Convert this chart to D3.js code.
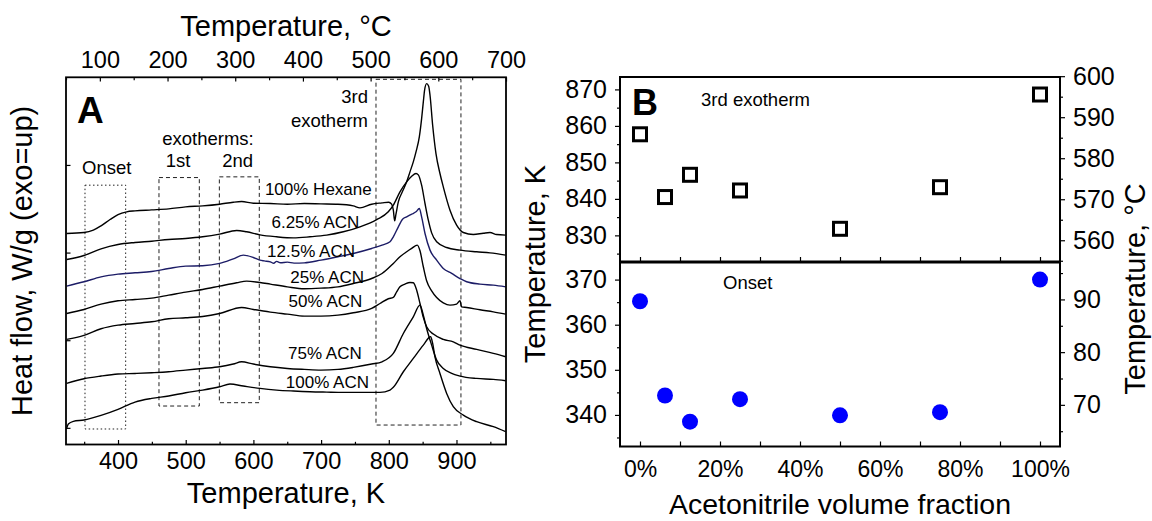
<!DOCTYPE html>
<html>
<head>
<meta charset="utf-8">
<script src="https://cdn.jsdelivr.net/npm/d3@7"></script>
<style>
  body { margin: 0; background: #fff; }
  svg { display: block; }
  text { font-family: "Liberation Sans", Arial, Helvetica, sans-serif; fill: #000; }
</style>
</head>
<body>
<svg id="chart" width="1152" height="521"></svg>
<script>
// ---------------- Panel A: DSC traces (temperature in K, heat flow in W/g, offset) ----------------
const hexane = [[324.1,2.218],[349.7,2.229],[363.5,2.256],[374.9,2.305],[388.2,2.377],[400.0,2.434],[412.8,2.465],[425.1,2.476],[449.7,2.487],[474.8,2.499],[499.9,2.522],[525.0,2.533],[550.1,2.552],[570.3,2.575],[582.6,2.582],[599.9,2.563],[625.0,2.560],[650.1,2.552],[675.2,2.560],[699.8,2.556],[724.9,2.552],[747.6,2.533],[757.4,2.510],[774.7,2.552],[790.0,2.567],[799.8,2.575],[804.2,2.552],[806.7,2.484],[808.7,2.362],[810.6,2.438],[814.1,2.579],[820.0,2.693],[826.4,2.807],[831.3,2.921],[836.2,3.035],[840.2,3.149],[845.1,3.320],[848.5,3.529],[851.0,3.719],[853.0,3.860],[855.9,3.928],[858.9,3.898],[860.9,3.795],[864.8,3.453],[869.7,3.130],[875.6,2.902],[880.5,2.750],[890.4,2.484],[900.2,2.313],[910.1,2.229],[924.9,2.206],[939.6,2.221],[949.5,2.229],[959.3,2.206],[972.6,2.199]];
const acn6 = [[324.1,1.921],[349.7,1.967],[374.9,2.043],[400.0,2.092],[425.1,2.115],[449.7,2.130],[474.8,2.149],[499.9,2.161],[525.0,2.180],[550.1,2.210],[575.3,2.252],[590.0,2.237],[609.7,2.202],[634.3,2.180],[659.0,2.168],[683.6,2.180],[708.2,2.199],[732.8,2.237],[757.4,2.294],[782.1,2.377],[799.3,2.465],[806.7,2.541],[816.5,2.693],[826.4,2.807],[833.8,2.871],[840.2,2.902],[843.6,2.887],[848.5,2.769],[853.5,2.560],[858.4,2.370],[863.3,2.225],[870.7,2.123],[885.5,2.058],[905.2,2.028],[929.8,2.009],[949.5,1.997],[972.6,1.971]];
const acn12 = [[324.1,1.617],[349.7,1.667],[374.9,1.723],[400.0,1.754],[425.1,1.769],[449.7,1.784],[474.8,1.818],[499.9,1.845],[525.0,1.849],[550.1,1.876],[570.3,1.929],[585.1,1.971],[599.9,1.944],[609.7,1.914],[616.0,1.905],[625.0,1.894],[630.0,1.878],[634.3,1.900],[640.0,1.884],[650.1,1.891],[660.0,1.880],[675.2,1.883],[699.8,1.914],[724.9,1.952],[747.6,1.990],[774.7,2.047],[790.0,2.085],[801.8,2.123],[806.7,2.180],[814.1,2.294],[820.0,2.377],[826.4,2.408],[833.8,2.438],[840.2,2.465],[845.1,2.503],[848.5,2.408],[853.5,2.218],[860.9,2.028],[870.7,1.914],[880.5,1.819],[892.9,1.762],[905.2,1.704],[915.0,1.667],[934.7,1.640],[954.4,1.628],[972.6,1.609]];
const acn25 = [[324.1,1.305],[349.7,1.351],[374.9,1.412],[400.0,1.450],[425.1,1.465],[449.7,1.480],[474.8,1.514],[499.9,1.549],[525.0,1.579],[550.1,1.617],[575.3,1.655],[590.0,1.674],[609.7,1.659],[625.0,1.640],[650.1,1.609],[675.2,1.587],[699.8,1.594],[724.9,1.609],[747.6,1.647],[774.7,1.704],[790.0,1.761],[806.7,1.876],[816.5,1.952],[826.4,2.009],[833.8,2.047],[842.1,2.085],[846.1,2.020],[851.0,1.838],[855.9,1.678],[863.3,1.564],[870.7,1.488],[880.5,1.427],[890.4,1.400],[900.2,1.412],[905.2,1.450],[907.6,1.380],[915.0,1.374],[934.7,1.347],[954.4,1.324],[972.6,1.298]];
const acn50 = [[324.1,1.009],[349.7,1.055],[374.9,1.131],[400.0,1.172],[425.1,1.191],[449.7,1.210],[474.8,1.245],[499.9,1.256],[525.0,1.271],[550.1,1.305],[582.6,1.374],[599.9,1.351],[625.0,1.321],[650.1,1.298],[675.2,1.275],[699.8,1.275],[724.9,1.286],[747.6,1.313],[774.7,1.362],[787.0,1.419],[799.3,1.473],[806.7,1.488],[811.6,1.552],[816.5,1.609],[823.9,1.640],[831.3,1.659],[836.2,1.655],[841.2,1.571],[846.1,1.419],[851.0,1.260],[855.9,1.153],[865.8,1.070],[880.5,1.009],[895.3,0.982],[905.2,0.944],[929.8,0.895],[954.4,0.849],[972.6,0.811]];
const acn75 = [[324.1,0.507],[349.7,0.560],[374.9,0.591],[400.0,0.614],[425.1,0.621],[449.7,0.629],[474.8,0.640],[499.9,0.659],[525.0,0.678],[550.1,0.697],[570.3,0.728],[582.6,0.754],[599.9,0.728],[625.0,0.697],[650.1,0.678],[675.2,0.667],[699.8,0.659],[724.9,0.667],[747.6,0.690],[774.7,0.728],[790.0,0.754],[806.7,0.849],[821.5,1.077],[836.2,1.267],[846.1,1.400],[851.0,1.286],[855.9,1.134],[863.3,0.944],[870.7,0.773],[880.5,0.678],[892.9,0.621],[905.2,0.591],[929.8,0.564],[954.4,0.553],[972.6,0.538]];
const acn100 = [[324.1,-0.006],[326.6,0.044],[334.0,0.074],[349.7,0.089],[374.9,0.142],[400.0,0.211],[425.1,0.294],[449.7,0.336],[474.8,0.363],[499.9,0.401],[525.0,0.431],[550.1,0.469],[565.4,0.500],[585.1,0.477],[609.7,0.450],[634.3,0.431],[659.0,0.420],[683.6,0.412],[708.2,0.408],[732.8,0.405],[757.4,0.405],[787.0,0.405],[801.8,0.431],[806.7,0.462],[821.5,0.640],[836.2,0.792],[851.0,0.944],[861.8,1.039],[864.8,0.963],[868.2,0.811],[875.6,0.621],[885.5,0.393],[895.3,0.241],[910.1,0.146],[929.8,0.070],[954.4,0.013],[972.6,-0.044]];

const traces = [hexane, acn6, acn12, acn25, acn50, acn75, acn100];
const sampleNames = ["100% Hexane", "6.25% ACN", "12.5% ACN", "25% ACN", "50% ACN", "75% ACN", "100% ACN"];
const traceColors = ["#000", "#000", "#1c1c66", "#000", "#000", "#000", "#000"];

// Highlighted regions: [T start, T end, heat flow bottom, heat flow top] (K, W/g)
const onsetBox = [351.2, 411.3, -0.013, 2.769];
const exo1Box = [460.5, 520.1, 0.249, 2.856];
const exo2Box = [549.7, 608.7, 0.287, 2.864];
const exo3Box = [781.1, 906.6, 0.032, 3.977];

const kelvinTicks = [400, 500, 600, 700, 800, 900];
const kelvinMinor = [350, 450, 550, 650, 750, 850, 950];
const celsiusTicks = [100, 200, 300, 400, 500, 600, 700];
const celsiusMinor = [50, 150, 250, 350, 450, 550, 650];
const heatTicks = [0, 1, 2, 3];

// ---------------- Panel B: characteristic temperatures vs acetonitrile fraction ----------------
const fractions = [0, 0.0625, 0.125, 0.25, 0.5, 0.75, 1];
const exotherm3K = [857.7, 840.5, 846.6, 842.3, 831.8, 843.2, 868.6];
const onsetK = [365.2, 344.3, 338.5, 343.5, 339.9, 340.6, 370.0];

const fracTicks = [0, 0.1, 0.2, 0.3, 0.4, 0.5, 0.6, 0.7, 0.8, 0.9, 1];
const exoKTicks = [830, 840, 850, 860, 870];
const exoKMinor = [825, 835, 845, 855, 865];
const exoCTicks = [560, 570, 580, 590, 600];
const exoCMinor = [555, 565, 575, 585, 595];
const onsetKTicks = [340, 350, 360, 370];
const onsetKMinor = [335, 345, 355, 365];
const onsetCTicks = [70, 80, 90];
const onsetCMinor = [65, 75, 85, 95];

// ---------------- drawing ----------------
const svg = d3.select("#chart");
const FONT_TICK = 23.5;
const FONT_TITLE = 29;

function styleAxis(g, size) {
  g.select(".domain").remove();
  g.selectAll(".tick line").attr("stroke", "#000").attr("stroke-width", 1.2);
  g.selectAll(".tick text").style("font-size", size + "px").attr("fill", "#000");
  return g;
}

// ---- Panel A ----
const A = { left: 66, right: 506, top: 77.3, bottom: 444.5 };
const xK = d3.scaleLinear().domain([323.15, 973.15]).range([A.left, A.right]);
const xC = d3.scaleLinear().domain([50, 700]).range([A.left, A.right]);
const yH = d3.scaleLinear().domain([-0.19, 4.0]).range([A.bottom, A.top]);

const gA = svg.append("g");

// region boxes
function drawBox(b, dash) {
  gA.append("rect")
    .attr("x", xK(b[0])).attr("y", yH(b[3]))
    .attr("width", xK(b[1]) - xK(b[0])).attr("height", yH(b[2]) - yH(b[3]))
    .attr("fill", "none").attr("stroke", "#222").attr("stroke-width", 1)
    .attr("stroke-dasharray", dash);
}
drawBox(onsetBox, "1.5,2.5");
drawBox(exo1Box, "4,3");
drawBox(exo2Box, "4,3");
drawBox(exo3Box, "4,3");

// traces
const line = d3.line().x(d => xK(d[0])).y(d => yH(d[1])).curve(d3.curveMonotoneX);
traces.forEach((t, i) => {
  gA.append("path").datum(t).attr("d", line)
    .attr("fill", "none").attr("stroke", traceColors[i]).attr("stroke-width", 1.4)
    .attr("stroke-linejoin", "round");
});

// trace labels (right-aligned, placed above each trace)
const labelAnchors = [[774.8, 2.657], [756.5, 2.277], [750.1, 1.953], [763.4, 1.656], [760.9, 1.376], [760.0, 0.786], [770.8, 0.451]];
sampleNames.forEach((name, i) => {
  gA.append("text").attr("x", xK(labelAnchors[i][0])).attr("y", yH(labelAnchors[i][1]))
    .attr("text-anchor", "end").style("font-size", "17px").text(name);
});

// region annotations
const ann = (T, v, txt, anchor, size) => gA.append("text")
  .attr("x", xK(T)).attr("y", yH(v)).attr("text-anchor", anchor)
  .style("font-size", size + "px").text(txt);
ann(769.3, 3.707, "3rd", "end", 18.5);
ann(769.3, 3.437, "exotherm", "end", 18.5);
ann(532.9, 3.228, "exotherms:", "middle", 18.5);
ann(488.6, 2.977, "1st", "middle", 18.5);
ann(576.8, 2.977, "2nd", "middle", 18.5);
ann(383.3, 2.893, "Onset", "middle", 18.5);
gA.append("text").attr("x", A.left + 11).attr("y", A.top + 46)
  .style("font-size", "37px").style("font-weight", "bold").text("A");

// axes A
styleAxis(gA.append("g").attr("transform", `translate(0,${A.bottom})`)
  .call(d3.axisBottom(xK).tickValues(kelvinTicks).tickSize(-4.5).tickPadding(7.5).tickSizeOuter(0)), FONT_TICK);
styleAxis(gA.append("g").attr("transform", `translate(0,${A.bottom})`)
  .call(d3.axisBottom(xK).tickValues(kelvinMinor).tickSize(-2.7).tickFormat("")), FONT_TICK);
styleAxis(gA.append("g").attr("transform", `translate(0,${A.top})`)
  .call(d3.axisTop(xC).tickValues(celsiusTicks).tickSize(-4.3).tickPadding(9.3)), FONT_TICK);
styleAxis(gA.append("g").attr("transform", `translate(0,${A.top})`)
  .call(d3.axisTop(xC).tickValues(celsiusMinor).tickSize(-3).tickFormat("")), FONT_TICK);
styleAxis(gA.append("g").attr("transform", `translate(${A.left},0)`)
  .call(d3.axisLeft(yH).tickValues(heatTicks).tickSize(-4.5).tickFormat("")), FONT_TICK);

gA.append("rect").attr("x", A.left).attr("y", A.top)
  .attr("width", A.right - A.left).attr("height", A.bottom - A.top)
  .attr("fill", "none").attr("stroke", "#000").attr("stroke-width", 1.8);

gA.append("text").attr("x", (A.left + A.right) / 2).attr("y", 503)
  .attr("text-anchor", "middle").style("font-size", FONT_TITLE + "px").text("Temperature, K");
gA.append("text").attr("x", (A.left + A.right) / 2).attr("y", 36)
  .attr("text-anchor", "middle").style("font-size", FONT_TITLE + "px").text("Temperature, °C");
gA.append("text").attr("transform", `translate(32,${(A.top + A.bottom) / 2}) rotate(-90)`)
  .attr("text-anchor", "middle").style("font-size", FONT_TITLE + "px").text("Heat flow, W/g (exo=up)");

// ---- Panel B ----
const B = { left: 620, right: 1060, top: 77, mid: 262, bottom: 446.5 };
const xF = d3.scaleLinear().domain([-0.05, 1.05]).range([B.left, B.right]);
const yExoK = d3.scaleLinear().domain([822.7, 873.4]).range([B.mid, B.top]);
const yExoC = d3.scaleLinear().domain([554.7, 599.8]).range([B.mid, B.top]);
const yOnK = d3.scaleLinear().domain([333.0, 373.9]).range([B.bottom, B.mid]);
const yOnC = d3.scaleLinear().domain([62.1, 97.1]).range([B.bottom, B.mid]);

const gB = svg.append("g");
const pct = d => (Math.round(d * 100) % 20 === 0) ? d3.format(".0%")(d) : "";

// x axes (ticks pointing inward) for both sub-panels
styleAxis(gB.append("g").attr("transform", `translate(0,${B.bottom})`)
  .call(d3.axisBottom(xF).tickValues(fracTicks).tickSize(-5).tickPadding(14.2).tickFormat(pct)), 23);
styleAxis(gB.append("g").attr("transform", `translate(0,${B.mid})`)
  .call(d3.axisBottom(xF).tickValues(fracTicks).tickSize(-5).tickFormat("")), 23);

// y axes (ticks pointing outward)
const yAxisPair = (scale, major, minor, side) => {
  const x = side === "left" ? B.left : B.right;
  const mk = side === "left" ? d3.axisLeft : d3.axisRight;
  styleAxis(gB.append("g").attr("transform", `translate(${x},0)`)
    .call(mk(scale).tickValues(major).tickSize(5).tickPadding(8)), 25);
  styleAxis(gB.append("g").attr("transform", `translate(${x},0)`)
    .call(mk(scale).tickValues(minor).tickSize(3).tickFormat("")), 25);
};
yAxisPair(yExoK, exoKTicks, exoKMinor, "left");
yAxisPair(yExoC, exoCTicks, exoCMinor, "right");
yAxisPair(yOnK, onsetKTicks, onsetKMinor, "left");
yAxisPair(yOnC, onsetCTicks, onsetCMinor, "right");

// markers
gB.selectAll("rect.exo").data(fractions).enter().append("rect").attr("class", "exo")
  .attr("x", (d) => xF(d) - 6.5).attr("y", (d, i) => yExoK(exotherm3K[i]) - 6.5)
  .attr("width", 13).attr("height", 13)
  .attr("fill", "none").attr("stroke", "#000").attr("stroke-width", 3);
gB.selectAll("circle.onset").data(fractions).enter().append("circle").attr("class", "onset")
  .attr("cx", d => xF(d)).attr("cy", (d, i) => yOnK(onsetK[i])).attr("r", 8)
  .attr("fill", "#0000ff");

// frames
gB.append("rect").attr("x", B.left).attr("y", B.top)
  .attr("width", B.right - B.left).attr("height", B.bottom - B.top)
  .attr("fill", "none").attr("stroke", "#000").attr("stroke-width", 2);
gB.append("line").attr("x1", B.left).attr("x2", B.right).attr("y1", B.mid).attr("y2", B.mid)
  .attr("stroke", "#000").attr("stroke-width", 3);

// labels
gB.append("text").attr("x", 632).attr("y", 115)
  .style("font-size", "36px").style("font-weight", "bold").text("B");
gB.append("text").attr("x", 701).attr("y", 106).style("font-size", "18.5px").text("3rd exotherm");
gB.append("text").attr("x", 723).attr("y", 289).style("font-size", "18.5px").text("Onset");

gB.append("text").attr("x", (B.left + B.right) / 2).attr("y", 514)
  .attr("text-anchor", "middle").style("font-size", "28.5px").text("Acetonitrile volume fraction");
gB.append("text").attr("transform", `translate(545,${B.mid + 2}) rotate(-90)`)
  .attr("text-anchor", "middle").style("font-size", FONT_TITLE + "px").text("Temperature, K");
gB.append("text").attr("transform", `translate(1145,${B.mid + 27}) rotate(-90)`)
  .attr("text-anchor", "middle").style("font-size", FONT_TITLE + "px").text("Temperature, °C");
</script>
</body>
</html>
